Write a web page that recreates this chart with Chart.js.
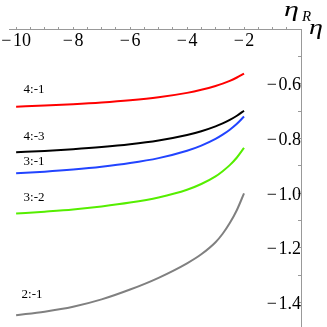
<!DOCTYPE html>
<html><head><meta charset="utf-8">
<script src="https://cdn.jsdelivr.net/npm/chart.js@4"></script>
<style>html,body{margin:0;padding:0;background:#fff}#wrap{width:327px;height:327px}</style>
</head><body><div id="wrap"><canvas id="c" width="327" height="327"></canvas></div>
<script>
const xValues = [-10, -9, -8, -7, -6, -5, -4, -3.5, -3, -2.75, -2.5, -2.25, -2];
const series41 = [-0.684, -0.680, -0.6751, -0.6689, -0.6607, -0.6496, -0.6336, -0.6225, -0.6084, -0.5996, -0.5895, -0.5774, -0.563];
const series43 = [-0.851, -0.846, -0.8398, -0.832, -0.8218, -0.8078, -0.7877, -0.7738, -0.756, -0.7451, -0.7323, -0.7172, -0.699];
const series31 = [-0.928, -0.9217, -0.9138, -0.9038, -0.8905, -0.8723, -0.8454, -0.8266, -0.802, -0.7866, -0.7684, -0.7466, -0.72];
const series32 = [-1.075, -1.068, -1.060, -1.049, -1.035, -1.016, -0.988, -0.967, -0.939, -0.920, -0.898, -0.870, -0.835];
const series21 = [-1.447, -1.434, -1.416, -1.389, -1.353, -1.310, -1.257, -1.224, -1.180, -1.149, -1.110, -1.062, -1.001];
const seriesNames = ['4:-1', '4:-3', '3:-1', '3:-2', '2:-1'];
const seriesColors = ['#ff0000', '#000000', '#2244ff', '#55ee00', '#808080'];
const labelX = [-9.37, -9.37, -9.37, -9.37, -9.44];
const labelY = [-0.621, -0.795, -0.885, -1.016, -1.371];
const xMajorTicks = [-10, -8, -6, -4, -2];
const xTickLabels = ['\u2212\u200a10', '\u2212\u200a8', '\u2212\u200a6', '\u2212\u200a4', '\u2212\u200a2'];
const xAllTicks = [-10, -9.5, -9, -8.5, -8, -7.5, -7, -6.5, -6, -5.5, -5, -4.5, -4, -3.5, -3, -2.5, -2, -1.5, -1, -0.5];
const yMajorTicks = [-0.6, -0.8, -1.0, -1.2, -1.4];
const yTickLabels = ['\u2212\u200a0.6', '\u2212\u200a0.8', '\u2212\u200a1.0', '\u2212\u200a1.2', '\u2212\u200a1.4'];
const yAllTicks = [-1.4, -1.3, -1.2, -1.1, -1.0, -0.9, -0.8, -0.7, -0.6, -0.5];

const allSeries = [series41, series43, series31, series32, series21];
const serif = '"Liberation Serif", "DejaVu Serif", serif';

function findLabel(v, majors, labels) {
  for (let i = 0; i < majors.length; i++) if (Math.abs(majors[i] - v) < 1e-6) return labels[i];
  return '';
}

function wideText(ctx, txt, x, y, sx) {
  ctx.save();
  ctx.translate(x, y);
  ctx.scale(sx, 1);
  ctx.fillText(txt, 0, 0);
  ctx.restore();
}

const textPlugin = {
  id: 'texts',
  afterDraw(chart) {
    const ctx = chart.ctx, xs = chart.scales.x, ys = chart.scales.y;
    ctx.save();
    ctx.font = '13px ' + serif;
    ctx.fillStyle = '#000';
    ctx.textAlign = 'center';
    ctx.textBaseline = 'middle';
    seriesNames.forEach((n, i) => {
      ctx.fillText(n, xs.getPixelForValue(labelX[i]), ys.getPixelForValue(labelY[i]));
    });
    const ox = xs.getPixelForValue(0), oy = ys.getPixelForValue(-0.4);
    ctx.textAlign = 'left';
    ctx.textBaseline = 'alphabetic';
    ctx.font = 'italic 20px ' + serif;
    wideText(ctx, '\u03b7', ox - 17, oy - 13, 1.5);
    ctx.font = 'italic 15px ' + serif;
    ctx.fillText('R', ox + 1, oy - 8);
    ctx.font = 'italic 20px ' + serif;
    wideText(ctx, '\u03b7', ox + 8, oy + 5, 1.4);
    ctx.restore();
  }
};

new Chart(document.getElementById('c'), {
  type: 'line',
  data: {
    datasets: allSeries.map((s, i) => ({
      label: seriesNames[i],
      data: xValues.map((x, j) => ({x: x, y: s[j]})),
      borderColor: seriesColors[i],
      borderWidth: 2,
      pointRadius: 0,
      fill: false,
      cubicInterpolationMode: 'monotone'
    }))
  },
  options: {
    responsive: false,
    animation: false,
    layout: {padding: {left: 9, right: 26, top: 29, bottom: 0}},
    plugins: {legend: {display: false}, tooltip: {enabled: false}},
    scales: {
      x: {
        type: 'linear', min: -10.25, max: 0,
        position: {y: -0.4},
        afterBuildTicks: s => { s.ticks = xAllTicks.map(v => ({value: v})); },
        afterFit: s => { s.paddingLeft = 0; s.paddingRight = 0; s.paddingTop = 0; s.paddingBottom = 0; },
        grid: {drawOnChartArea: false, tickLength: -3, color: '#999', tickColor: '#999'},
        border: {color: '#999', width: 1},
        ticks: {autoSkip: false, maxRotation: 0, padding: 4, color: '#000', font: {family: serif, size: 18},
          callback: v => findLabel(v, xMajorTicks, xTickLabels)}
      },
      y: {
        type: 'linear', min: -1.49, max: -0.4,
        position: {x: 0},
        afterBuildTicks: s => { s.ticks = yAllTicks.map(v => ({value: v})); },
        afterFit: s => { s.paddingLeft = 0; s.paddingRight = 0; s.paddingTop = 0; s.paddingBottom = 0; },
        grid: {drawOnChartArea: false, tickLength: 3, color: '#999', tickColor: '#999'},
        border: {color: '#999', width: 1},
        ticks: {autoSkip: false, padding: 3, labelOffset: 2, color: '#000', font: {family: serif, size: 18},
          callback: v => findLabel(v, yMajorTicks, yTickLabels)}
      }
    }
  },
  plugins: [textPlugin]
});
</script></body></html>
